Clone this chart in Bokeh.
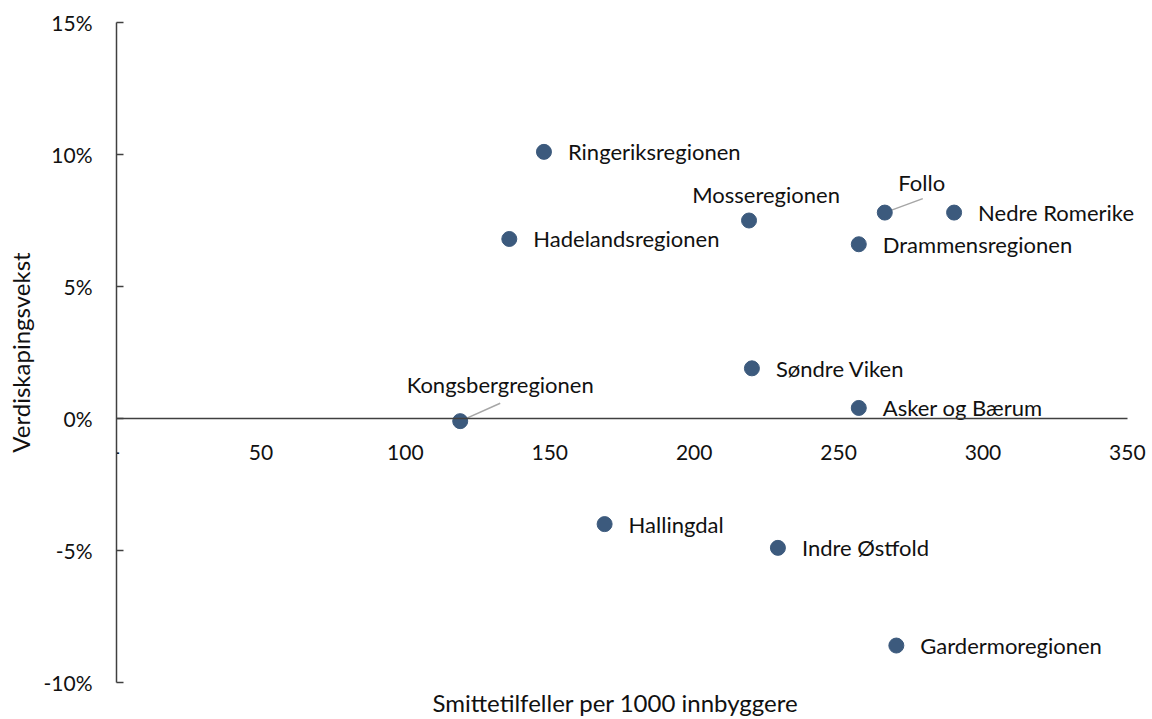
from bokeh.plotting import figure
from bokeh.models import Range1d, Title, FixedTicker, NumeralTickFormatter, ColumnDataSource
from bokeh.core.properties import value
from bokeh.embed import file_html
from bokeh.resources import INLINE

# ---- data ----
regions = ["Ringeriksregionen", "Mosseregionen", "Follo", "Nedre Romerike",
           "Hadelandsregionen", "Drammensregionen", "Søndre Viken", "Asker og Bærum",
           "Kongsbergregionen", "Hallingdal", "Indre Østfold", "Gardermoregionen"]
infections_per_1000 = [148, 219, 266, 290, 136, 257, 220, 257, 119, 169, 229, 270]
value_growth = [0.101, 0.075, 0.078, 0.078, 0.068, 0.066, 0.019, 0.004,
                -0.001, -0.040, -0.049, -0.086]
x_ticks = [0, 50, 100, 150, 200, 250, 300, 350]
y_ticks = [-0.10, -0.05, 0.0, 0.05, 0.10, 0.15]
x_title = "Smittetilfeller per 1000 innbyggere"
y_title = "Verdiskapingsvekst"

# ---- styling / layout ----
W, H = 1152, 719
ML, MR, MT, MB = 116, 2, 22, 35
X_AXIS_MIN, X_AXIS_MAX = 0, 350
X_VIEW_MAX = 358          # a little room to the right so labels are not clipped
Y0, Y1 = -0.10, 0.15
FONT = "Lato"
TICK_SIZE = "21px"
LABEL_SIZE = "22px"
TITLE_SIZE = "24px"
X_TITLE_OFFSET = 316      # px from frame left to start of the x title
DOT = "#3C5A7D"
AXIS = "#404040"
TEXT = "#111111"

# label placement in screen pixels (dx, dy up-positive, align) ; default right of dot
default_place = (24, 0, "left")
special_place = {
    "Mosseregionen": (17, 26, "center"),
    "Follo": (37, 30, "center"),
    "Kongsbergregionen": (40, 37, "center"),
}
# leader lines (end offset in pixels from dot)
leaders = {"Follo": (38, 14), "Kongsbergregionen": (40, 18)}

fw = W - ML - MR
fh = H - MT - MB
px_x = fw / (X_VIEW_MAX - X_AXIS_MIN)
px_y = fh / (Y1 - Y0)

p = figure(width=W, height=H, output_backend="svg", toolbar_location=None,
           x_range=Range1d(X_AXIS_MIN, X_VIEW_MAX), y_range=Range1d(Y0, Y1),
           min_border_left=ML, min_border_right=MR, min_border_top=MT, min_border_bottom=MB)
p.xgrid.visible = False
p.ygrid.visible = False
p.outline_line_color = None
p.background_fill_color = "white"
p.border_fill_color = "white"

# x axis crossing at y = 0
xa = p.xaxis[0]
xa.fixed_location = 0
xa.bounds = (X_AXIS_MIN, X_AXIS_MAX)
xa.ticker = FixedTicker(ticks=x_ticks)
xa.major_label_overrides = {0: "-"}
xa.major_tick_line_color = None
xa.minor_tick_line_color = None
xa.axis_line_color = AXIS
xa.axis_line_width = 1.5
xa.major_label_standoff = 20
xa.major_label_text_font = FONT
xa.major_label_text_font_size = TICK_SIZE
xa.major_label_text_color = TEXT

# x title below the frame
p.add_layout(Title(text=x_title, align="left", offset=X_TITLE_OFFSET, standoff=6,
                   text_font=FONT, text_font_size=TITLE_SIZE, text_font_style="normal",
                   text_color=TEXT), "below")

ya = p.yaxis[0]
ya.ticker = FixedTicker(ticks=y_ticks)
ya.formatter = NumeralTickFormatter(format="0%")
ya.major_tick_in = 7
ya.major_tick_out = 0
ya.minor_tick_line_color = None
ya.major_tick_line_color = AXIS
ya.major_tick_line_width = 1.5
ya.axis_line_color = AXIS
ya.axis_line_width = 1.5
ya.major_label_standoff = 24
ya.major_label_text_font = FONT
ya.major_label_text_font_size = TICK_SIZE
ya.major_label_text_color = TEXT
ya.axis_label = y_title
ya.axis_label_text_font = FONT
ya.axis_label_text_font_size = TITLE_SIZE
ya.axis_label_text_font_style = "normal"
ya.axis_label_text_color = TEXT
ya.axis_label_standoff = 6

# leader lines
lx0, ly0, lx1, ly1 = [], [], [], []
for r, xv, yv in zip(regions, infections_per_1000, value_growth):
    if r in leaders:
        dx, dy = leaders[r]
        lx0.append(xv); ly0.append(yv)
        lx1.append(xv + dx / px_x); ly1.append(yv + dy / px_y)
p.segment(lx0, ly0, lx1, ly1, line_color="#A6A6A6", line_width=1.5)

p.scatter(infections_per_1000, value_growth, size=15, fill_color=DOT, line_color=DOT)

xo, yo, al = [], [], []
for r in regions:
    dx, dy, a = special_place.get(r, default_place)
    xo.append(dx); yo.append(-dy); al.append(a)
src = ColumnDataSource(dict(x=infections_per_1000, y=value_growth, t=regions,
                            xo=xo, yo=yo, al=al))
p.text(x="x", y="y", text="t", x_offset="xo", y_offset="yo", text_align="al",
       text_baseline="middle", text_font=value(FONT), text_font_size=value(LABEL_SIZE),
       text_color=TEXT, source=src)

open("out.html", "w").write(file_html(p, INLINE))
